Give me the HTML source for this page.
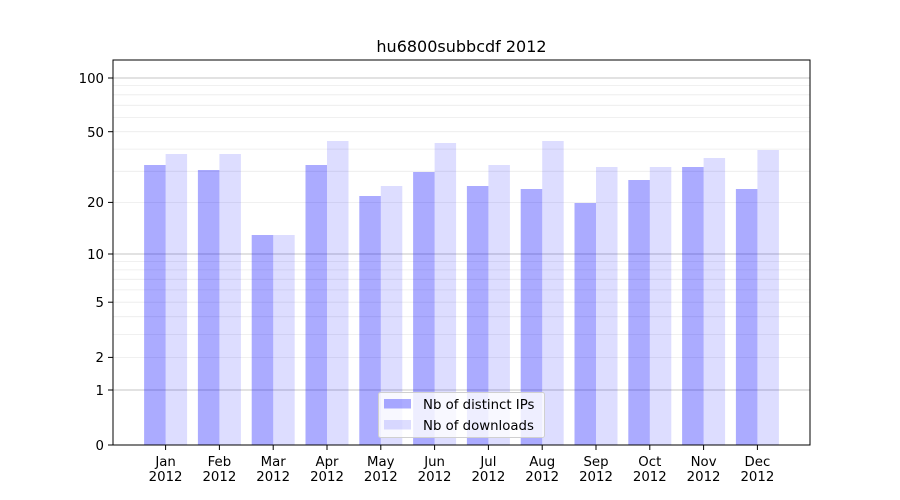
<!DOCTYPE html>
<html><head><meta charset="utf-8"><style>body{margin:0;background:#fff}svg{display:block;font-family:"DejaVu Sans","Liberation Sans",sans-serif}</style></head>
<body>
<svg width="900" height="500" viewBox="0 0 900 500">
<rect width="900" height="500" fill="#fff"/>
<g stroke="#ebebeb" stroke-width="0.8">
<line x1="113" x2="810" y1="357.4" y2="357.4"/><line x1="113" x2="810" y1="334.5" y2="334.5"/><line x1="113" x2="810" y1="316.7" y2="316.7"/><line x1="113" x2="810" y1="302.2" y2="302.2"/><line x1="113" x2="810" y1="289.9" y2="289.9"/><line x1="113" x2="810" y1="279.3" y2="279.3"/><line x1="113" x2="810" y1="269.9" y2="269.9"/><line x1="113" x2="810" y1="261.5" y2="261.5"/>
<line x1="113" x2="810" y1="202.4" y2="202.4"/><line x1="113" x2="810" y1="171.3" y2="171.3"/><line x1="113" x2="810" y1="149.1" y2="149.1"/><line x1="113" x2="810" y1="131.7" y2="131.7"/><line x1="113" x2="810" y1="117.4" y2="117.4"/><line x1="113" x2="810" y1="105.3" y2="105.3"/><line x1="113" x2="810" y1="94.8" y2="94.8"/><line x1="113" x2="810" y1="85.5" y2="85.5"/>
</g>
<g stroke="#c4c4c4" stroke-width="0.9">
<line x1="113" x2="810" y1="390" y2="390"/><line x1="113" x2="810" y1="254" y2="254"/><line x1="113" x2="810" y1="78" y2="78"/>
</g>
<g fill="#0000ff" fill-opacity="0.33">
<rect x="144.1" y="165" width="21.5" height="280"/>
<rect x="197.9" y="170" width="21.5" height="275"/>
<rect x="251.7" y="235" width="21.5" height="210"/>
<rect x="305.5" y="165" width="21.5" height="280"/>
<rect x="359.3" y="196" width="21.5" height="249"/>
<rect x="413.1" y="172" width="21.5" height="273"/>
<rect x="466.9" y="186" width="21.5" height="259"/>
<rect x="520.7" y="189" width="21.5" height="256"/>
<rect x="574.5" y="203" width="21.5" height="242"/>
<rect x="628.3" y="180" width="21.5" height="265"/>
<rect x="682.1" y="167" width="21.5" height="278"/>
<rect x="735.9" y="189" width="21.5" height="256"/>
</g>
<g fill="#0000ff" fill-opacity="0.133">
<rect x="165.6" y="154" width="21.5" height="291"/>
<rect x="219.4" y="154" width="21.5" height="291"/>
<rect x="273.2" y="235" width="21.5" height="210"/>
<rect x="327" y="141" width="21.5" height="304"/>
<rect x="380.8" y="186" width="21.5" height="259"/>
<rect x="434.6" y="143" width="21.5" height="302"/>
<rect x="488.4" y="165" width="21.5" height="280"/>
<rect x="542.2" y="141" width="21.5" height="304"/>
<rect x="596" y="167" width="21.5" height="278"/>
<rect x="649.8" y="167" width="21.5" height="278"/>
<rect x="703.6" y="158" width="21.5" height="287"/>
<rect x="757.4" y="150" width="21.5" height="295"/>
</g>
<rect x="113" y="60" width="697" height="385" fill="none" stroke="#000" stroke-width="1"/>
<g stroke="#000" stroke-width="1">
<line x1="108" x2="113" y1="445" y2="445"/><line x1="108" x2="113" y1="390" y2="390"/><line x1="108" x2="113" y1="357.4" y2="357.4"/><line x1="108" x2="113" y1="302.2" y2="302.2"/><line x1="108" x2="113" y1="254" y2="254"/><line x1="108" x2="113" y1="202.4" y2="202.4"/><line x1="108" x2="113" y1="131.7" y2="131.7"/><line x1="108" x2="113" y1="78" y2="78"/>
<line x1="165.6" x2="165.6" y1="445" y2="450"/><line x1="219.4" x2="219.4" y1="445" y2="450"/><line x1="273.2" x2="273.2" y1="445" y2="450"/><line x1="327" x2="327" y1="445" y2="450"/><line x1="380.8" x2="380.8" y1="445" y2="450"/><line x1="434.6" x2="434.6" y1="445" y2="450"/><line x1="488.4" x2="488.4" y1="445" y2="450"/><line x1="542.2" x2="542.2" y1="445" y2="450"/><line x1="596" x2="596" y1="445" y2="450"/><line x1="649.8" x2="649.8" y1="445" y2="450"/><line x1="703.6" x2="703.6" y1="445" y2="450"/><line x1="757.4" x2="757.4" y1="445" y2="450"/>
</g>
<g font-size="13.3" text-anchor="end" fill="#000">
<text x="104" y="450">0</text><text x="104" y="395">1</text><text x="104" y="362">2</text><text x="104" y="307">5</text><text x="104" y="259">10</text><text x="104" y="207">20</text><text x="104" y="137">50</text><text x="104" y="83">100</text>
</g>
<g font-size="13.3" text-anchor="middle" fill="#000">
<text x="165.6" y="466">Jan</text><text x="165.6" y="481">2012</text>
<text x="219.4" y="466">Feb</text><text x="219.4" y="481">2012</text>
<text x="273.2" y="466">Mar</text><text x="273.2" y="481">2012</text>
<text x="327" y="466">Apr</text><text x="327" y="481">2012</text>
<text x="380.8" y="466">May</text><text x="380.8" y="481">2012</text>
<text x="434.6" y="466">Jun</text><text x="434.6" y="481">2012</text>
<text x="488.4" y="466">Jul</text><text x="488.4" y="481">2012</text>
<text x="542.2" y="466">Aug</text><text x="542.2" y="481">2012</text>
<text x="596" y="466">Sep</text><text x="596" y="481">2012</text>
<text x="649.8" y="466">Oct</text><text x="649.8" y="481">2012</text>
<text x="703.6" y="466">Nov</text><text x="703.6" y="481">2012</text>
<text x="757.4" y="466">Dec</text><text x="757.4" y="481">2012</text>
<text x="461.5" y="52" font-size="16">hu6800subbcdf 2012</text>
</g>
<rect x="378.5" y="392.5" width="166" height="45" rx="2" fill="#fff" fill-opacity="0.8" stroke="#d0d0d0"/>
<rect x="384" y="399" width="27" height="9.5" fill="#0000ff" fill-opacity="0.33"/>
<rect x="384" y="420" width="27" height="9.5" fill="#0000ff" fill-opacity="0.133"/>
<g font-size="13.3" fill="#000"><text x="423" y="409">Nb of distinct IPs</text><text x="423" y="430">Nb of downloads</text></g>
</svg>
</body></html>
